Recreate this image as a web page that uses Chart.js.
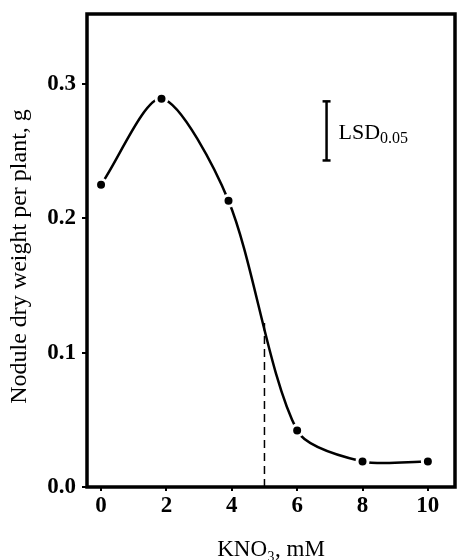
<!DOCTYPE html>
<html>
<head>
<meta charset="utf-8">
<script src="https://cdn.jsdelivr.net/npm/chart.js@4.4.1/dist/chart.umd.min.js"></script>
<style>
  html, body { margin: 0; padding: 0; background: #fff; overflow: hidden; }
  canvas { display: block; }
</style>
</head>
<body>
<canvas id="grafico" width="458" height="560"></canvas>
<script>
// datos
const kno3 = [0, 1.85, 3.9, 6, 8, 10];
const pesoNodulo = [0.225, 0.289, 0.213, 0.042, 0.019, 0.019];
const xTicks = [0, 2, 4, 6, 8, 10];
const yTicks = [0, 0.1, 0.2, 0.3];
const umbralX = [5, 5];
const umbralY = [0, 0.122];
const lsdX = [6.9, 6.9];
const lsdY = [0.243, 0.287];
const tituloY = "Nodule dry weight per plant, g";

const serif = "'Liberation Serif', 'Times New Roman', serif";

// marco, titulo del eje y, etiqueta LSD
const marco = {
  id: "marco",
  afterDraw(chart) {
    const { ctx, chartArea: a, scales } = chart;
    ctx.save();
    ctx.strokeStyle = "#000";
    ctx.lineWidth = 3.5;
    ctx.strokeRect(a.left, a.top, a.right - a.left, a.bottom - a.top);

    // titulo vertical, un poco mas abajo que el centro del area
    ctx.fillStyle = "#000";
    ctx.save();
    ctx.translate(20, (a.top + a.bottom) / 2 + 6);
    ctx.rotate(-Math.PI / 2);
    ctx.font = "24px " + serif;
    ctx.textAlign = "center";
    ctx.textBaseline = "middle";
    ctx.fillText(tituloY, 0, 0);
    ctx.restore();

    const x = scales.x.getPixelForValue(lsdX[0]) + 12;
    const y = (scales.y.getPixelForValue(lsdY[0]) + scales.y.getPixelForValue(lsdY[1])) / 2 + 8;
    ctx.textBaseline = "alphabetic";
    ctx.font = "22px " + serif;
    ctx.fillText("LSD", x, y);
    const w = ctx.measureText("LSD").width;
    ctx.font = "16px " + serif;
    ctx.fillText("0.05", x + w, y + 4);
    ctx.restore();
  }
};

new Chart(document.getElementById("grafico"), {
  type: "line",
  data: {
    datasets: [
      {
        data: kno3.map((v, i) => ({ x: v, y: pesoNodulo[i] })),
        borderColor: "#000",
        borderWidth: 2.5,
        tension: 0.28,
        pointRadius: 5.5,
        pointBackgroundColor: "#000",
        pointBorderColor: "#fff",
        pointBorderWidth: 3,
        order: 1
      },
      {
        data: umbralX.map((v, i) => ({ x: v, y: umbralY[i] })),
        borderColor: "#000",
        borderWidth: 1.5,
        borderDash: [8, 5],
        pointRadius: 0,
        order: 2
      },
      {
        data: lsdX.map((v, i) => ({ x: v, y: lsdY[i] })),
        borderColor: "#000",
        borderWidth: 2.5,
        pointStyle: "line",
        pointRadius: 4,
        pointBorderWidth: 2.5,
        pointBorderColor: "#000",
        order: 3
      }
    ]
  },
  options: {
    responsive: false,
    animation: false,
    layout: { autoPadding: false, padding: { top: 14, right: 3, left: 0, bottom: 0 } },
    plugins: { legend: { display: false }, tooltip: { enabled: false } },
    scales: {
      x: {
        type: "linear",
        min: -0.43,
        max: 10.83,
        afterBuildTicks: s => { s.ticks = xTicks.map(v => ({ value: v })); },
        afterFit: s => { s.height = 73; s.paddingLeft = 0; s.paddingRight = 0; },
        grid: { display: true, drawOnChartArea: false, drawTicks: true, tickLength: 4, color: "#000", lineWidth: 2 },
        border: { display: false },
        ticks: { color: "#000", padding: 1, font: { family: serif, size: 23, weight: "bold" }, callback: v => String(v) },
        title: {
          display: true,
          text: "KNO₃, mM",
          color: "#000",
          font: { family: serif, size: 23, lineHeight: 0.9 },
          padding: { top: 0, bottom: 0 }
        }
      },
      y: {
        min: 0,
        max: 0.352,
        afterBuildTicks: s => { s.ticks = yTicks.map(v => ({ value: v })); },
        afterFit: s => { s.width = 87; s.paddingTop = 0; s.paddingBottom = 0; },
        grid: { display: true, drawOnChartArea: false, drawTicks: true, tickLength: 5, color: "#000", lineWidth: 2 },
        border: { display: false },
        ticks: { color: "#000", padding: 6, font: { family: serif, size: 23, weight: "bold" }, callback: v => v.toFixed(1) },
        title: { display: false }
      }
    }
  },
  plugins: [marco]
});
</script>
</body>
</html>
